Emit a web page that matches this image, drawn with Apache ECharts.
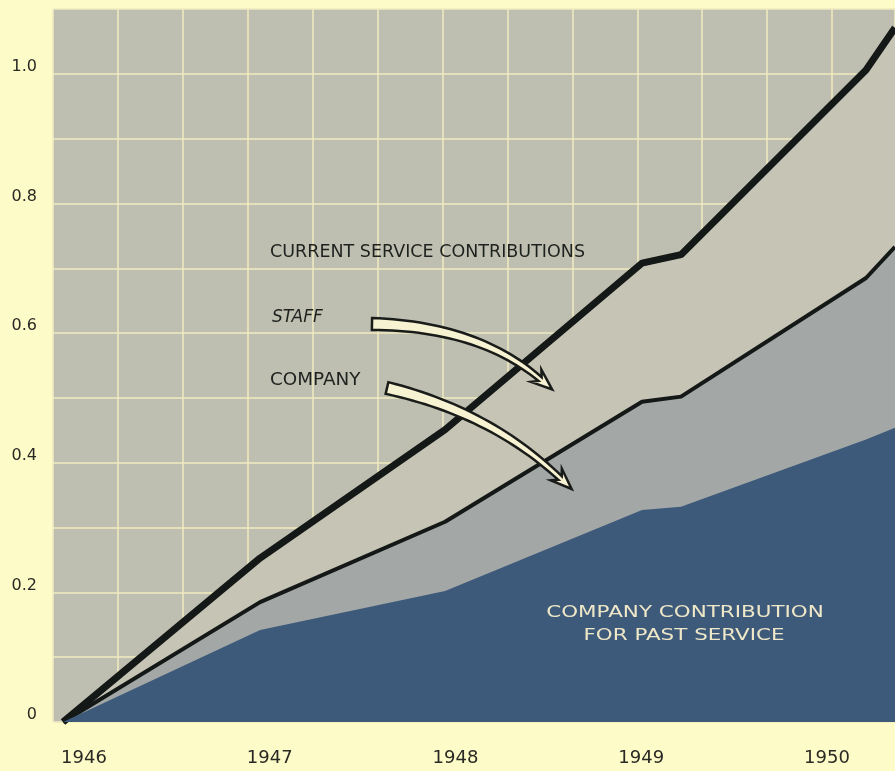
<!DOCTYPE html>
<html>
<head>
<meta charset="utf-8">
<script src="https://cdn.jsdelivr.net/npm/echarts@6/dist/echarts.min.js"></script>
<style>
  html, body { margin: 0; padding: 0; background: #fdfbc7; }
  #content { width: 895px; height: 771px; }
</style>
</head>
<body>
<div id="content"></div>
<script>
// x positions (years, as plotted), and the three layers
var years = [1945.887, 1946.948, 1947.944, 1949.004, 1949.214, 1950.21, 1950.366];
var pastService = [0, 0.142, 0.202, 0.327, 0.332, 0.436, 0.454];
var companyCurrent = [0, 0.043, 0.107, 0.167, 0.170, 0.249, 0.279];
var staffCurrent = [0, 0.068, 0.142, 0.214, 0.219, 0.321, 0.338];
var yearLabels = [1946, 1947, 1948, 1949, 1950];

// running totals, each layer sits on the ones below it
var companyTop = pastService.map(function (v, i) { return v + companyCurrent[i]; });
var staffTop = companyTop.map(function (v, i) { return v + staffCurrent[i]; });

function pairs(vals) {
    return vals.map(function (v, i) { return [years[i], v]; });
}

// curved tapered arrow built from a quadratic bezier centre line
function arrowPoints(p0, p1, p2, w0, w1, headLen, headW) {
    var left = [], right = [];
    var n = 30, nx, ny, tx, ty;
    for (var i = 0; i <= n; i++) {
        var t = i / n, u = 1 - t;
        var x = u * u * p0[0] + 2 * u * t * p1[0] + t * t * p2[0];
        var y = u * u * p0[1] + 2 * u * t * p1[1] + t * t * p2[1];
        tx = 2 * u * (p1[0] - p0[0]) + 2 * t * (p2[0] - p1[0]);
        ty = 2 * u * (p1[1] - p0[1]) + 2 * t * (p2[1] - p1[1]);
        var l = Math.sqrt(tx * tx + ty * ty);
        tx /= l; ty /= l;
        nx = -ty; ny = tx;
        var w = (w0 + (w1 - w0) * t) / 2;
        left.push([x + nx * w, y + ny * w]);
        right.push([x - nx * w, y - ny * w]);
    }
    var tip = [p2[0] + tx * headLen, p2[1] + ty * headLen];
    var b1 = [p2[0] - tx * 5 + nx * headW, p2[1] - ty * 5 + ny * headW];
    var b2 = [p2[0] - tx * 5 - nx * headW, p2[1] - ty * 5 - ny * headW];
    return left.concat([b1, tip, b2], right.reverse());
}

var myChart = echarts.init(document.getElementById('content'));
myChart.setOption({
    backgroundColor: '#fdfbc7',
    animation: false,
    grid: {
        left: 53, right: 0, top: 9, bottom: 49,
        show: true, backgroundColor: '#bebfb0', borderWidth: 0
    },
    xAxis: [
        {
            type: 'value',
            min: 1945.833,
            max: 1950.366,
            axisLine: {show: false},
            axisTick: {show: false},
            splitLine: {show: false},
            axisLabel: {
                customValues: yearLabels,
                margin: 27,
                fontSize: 18,
                fontFamily: 'DejaVu Sans',
                color: '#2a2a25',
                formatter: function (v) { return String(Math.round(v)); }
            }
        },
        {
            type: 'value',
            min: 0,
            max: 12.97,
            interval: 1,
            axisLine: {show: false},
            axisTick: {show: false},
            axisLabel: {show: false},
            splitLine: {show: true, lineStyle: {color: '#f1ebc0', width: 1.5}}
        }
    ],
    yAxis: {
        type: 'value',
        min: 0,
        max: 1.1,
        interval: 0.1,
        axisLine: {show: false},
        axisTick: {show: false},
        splitLine: {lineStyle: {color: '#f1ebc0', width: 1.5}},
        axisLabel: {
            margin: 16,
            fontSize: 16,
            fontFamily: 'DejaVu Sans',
            color: '#2a2a25',
            verticalAlign: 'bottom',
            lineHeight: 14,
            formatter: function (v) {
                var k = Math.round(v * 10);
                if (k % 2) return '';
                return k === 0 ? '0' : (k / 10).toFixed(1);
            }
        }
    },
    series: [
        {
            name: 'Staff',
            type: 'line',
            symbol: 'none',
            z: 2,
            data: pairs(staffTop),
            lineStyle: {width: 7, color: '#141816'},
            areaStyle: {color: '#c6c4b5', opacity: 1}
        },
        {
            name: 'Company',
            type: 'line',
            symbol: 'none',
            z: 3,
            data: pairs(companyTop),
            lineStyle: {width: 4, color: '#141816'},
            areaStyle: {color: '#a3a7a6', opacity: 1}
        },
        {
            name: 'Company contribution for past service',
            type: 'line',
            symbol: 'none',
            z: 4,
            data: pairs(pastService),
            lineStyle: {width: 0},
            areaStyle: {color: '#3e5a7b', opacity: 1}
        }
    ],
    graphic: [
        {
            type: 'text', x: 270, y: 253, z: 100, scaleX: 1.03,
            style: {text: 'CURRENT SERVICE CONTRIBUTIONS', fill: '#1e221f', font: '17px "DejaVu Sans"',
                    verticalAlign: 'middle'}
        },
        {
            type: 'text', x: 272, y: 318, z: 100,
            style: {text: 'STAFF', fill: '#1e221f', font: 'italic 17px "DejaVu Sans"',
                    verticalAlign: 'middle'}
        },
        {
            type: 'text', x: 270, y: 381, z: 100, scaleX: 1.08,
            style: {text: 'COMPANY', fill: '#1e221f', font: '17px "DejaVu Sans"',
                    verticalAlign: 'middle'}
        },
        {
            type: 'text', x: 685, y: 613, z: 100, scaleX: 1.34,
            style: {text: 'COMPANY CONTRIBUTION', fill: '#efe8c8', font: '16px "DejaVu Sans"',
                    align: 'center', verticalAlign: 'middle'}
        },
        {
            type: 'text', x: 684, y: 636, z: 100, scaleX: 1.34,
            style: {text: 'FOR PAST SERVICE', fill: '#efe8c8', font: '16px "DejaVu Sans"',
                    align: 'center', verticalAlign: 'middle'}
        },
        {
            type: 'polygon', z: 100,
            shape: {points: arrowPoints([372, 324], [478, 326], [540, 379], 12, 5, 16, 8)},
            style: {fill: '#f7f2d2', stroke: '#1a1c1a', lineWidth: 2.5}
        },
        {
            type: 'polygon', z: 100,
            shape: {points: arrowPoints([387, 388], [490, 412], [560, 478], 12, 5, 16, 8)},
            style: {fill: '#f7f2d2', stroke: '#1a1c1a', lineWidth: 2.5}
        }
    ]
});
</script>
</body>
</html>
